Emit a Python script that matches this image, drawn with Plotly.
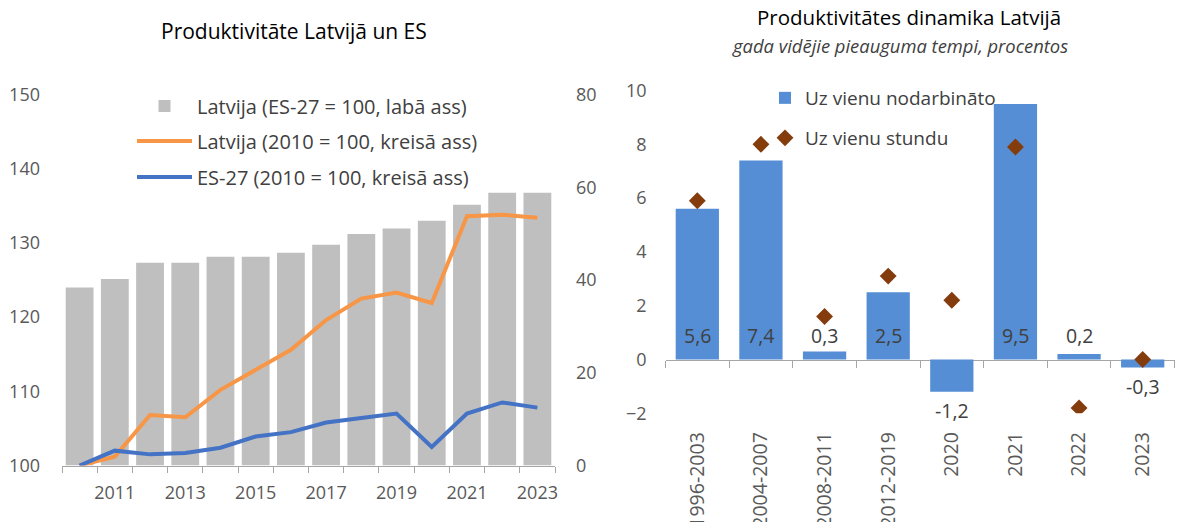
import plotly.graph_objects as go

# ---------------- data ----------------
years = [str(y) for y in range(2010, 2024)]
year_labels = [y if int(y) % 2 == 1 else "" for y in years]
lv_eu27 = [38.4, 40.2, 43.7, 43.7, 45.0, 45.0, 45.9, 47.6, 49.9, 51.1, 52.8, 56.2, 58.8, 58.8]
lv_2010 = [100.0, 101.2, 106.8, 106.5, 110.2, 112.9, 115.6, 119.6, 122.5, 123.3, 121.9, 133.6, 133.8, 133.4]
eu_2010 = [100.0, 102.0, 101.5, 101.7, 102.4, 103.9, 104.5, 105.8, 106.4, 107.0, 102.5, 107.0, 108.5, 107.8]

periods = ["1996-2003", "2004-2007", "2008-2011", "2012-2019", "2020", "2021", "2022", "2023"]
per_employed = [5.6, 7.4, 0.3, 2.5, -1.2, 9.5, 0.2, -0.3]
per_hour = [5.9, 8.0, 1.6, 3.1, 2.2, 7.9, -1.8, 0.0]

# ---------------- style ----------------
FONT = "Open Sans"
TICK_C = "#595959"
TEXT_C = "#404040"
AXIS_C = "#A6A6A6"
W, H = 1182, 522

xdom1 = [62 / W, 555 / W]
ydom1 = [1 - 465.5 / H, 1 - 94.5 / H]
xdom2 = [665.5 / W, 1174.5 / W]
ydom2 = [1 - 413.3 / H, 1 - 90.5 / H]
yr2 = [-2, 10]
zero_pos = ydom2[0] + (0 - yr2[0]) / (yr2[1] - yr2[0]) * (ydom2[1] - ydom2[0])

fig = go.Figure()

# left chart
fig.add_trace(go.Bar(x=years, y=lv_eu27, name="Latvija (ES-27 = 100, labā ass)",
                     marker=dict(color="#BFBFBF", line=dict(width=0)), width=0.79,
                     xaxis="x", yaxis="y", legend="legend"))
fig.add_trace(go.Scatter(x=years, y=lv_2010, mode="lines", name="Latvija (2010 = 100, kreisā ass)",
                         line=dict(color="#F79646", width=4), xaxis="x", yaxis="y2", legend="legend2"))
fig.add_trace(go.Scatter(x=years, y=eu_2010, mode="lines", name="ES-27 (2010 = 100, kreisā ass)",
                         line=dict(color="#4472C4", width=4), xaxis="x", yaxis="y2", legend="legend3"))

# right chart
fig.add_trace(go.Bar(x=periods, y=per_employed, name="Uz vienu nodarbināto",
                     marker=dict(color="#558ED5", line=dict(width=0)), width=0.68,
                     xaxis="x2", yaxis="y3", legend="legend4"))
fig.add_trace(go.Scatter(x=periods, y=per_hour, mode="markers", name="Uz vienu stundu",
                         marker=dict(symbol="diamond", size=13, color="#843C0C"),
                         xaxis="x3", yaxis="y3", legend="legend5"))

tickfont = dict(family=FONT, size=18, color=TICK_C)

fig.update_layout(
    width=W, height=H,
    margin=dict(l=0, r=0, t=0, b=0, autoexpand=False),
    paper_bgcolor="white", plot_bgcolor="rgba(0,0,0,0)",
    font=dict(family=FONT, color=TEXT_C),
    barmode="overlay",
    xaxis=dict(domain=xdom1, type="category", range=[-0.5, 13.5], anchor="y", automargin=False,
               tickmode="array", tickvals=years, ticktext=year_labels,
               tickson="boundaries", ticks="outside", ticklen=6, tickcolor=AXIS_C,
               showline=True, linecolor=AXIS_C, linewidth=1, showgrid=False,
               tickfont=tickfont, tickangle=0, ticklabelstandoff=11),
    yaxis=dict(domain=ydom1, range=[0, 80], dtick=20, side="right", anchor="x", automargin=False,
               showgrid=False, zeroline=False, tickfont=tickfont, ticklabelstandoff=20),
    yaxis2=dict(range=[100, 150], dtick=10, side="left", overlaying="y", anchor="x", automargin=False,
                showgrid=False, zeroline=False, tickfont=tickfont, ticklabelstandoff=21),
    xaxis2=dict(domain=xdom2, type="category", range=[-0.5, 7.5], anchor="y3", automargin=False,
                showline=False, ticks="", showgrid=False, tickangle=-90,
                tickfont=dict(family=FONT, size=19.5, color=TICK_C), ticklabelstandoff=14),
    xaxis3=dict(type="category", range=[-0.5, 7.5], overlaying="x2", anchor="free", automargin=False,
                position=zero_pos, showline=True, linecolor=AXIS_C, linewidth=1,
                ticks="outside", tickson="boundaries", ticklen=7, tickcolor=AXIS_C,
                showticklabels=False, showgrid=False, layer="below traces"),
    yaxis3=dict(domain=ydom2, range=yr2, dtick=2, anchor="x2", showgrid=False, automargin=False,
                zeroline=False, tickfont=tickfont, ticklabelstandoff=18),
    showlegend=True,
)

common = dict(xanchor="left", yanchor="middle", bgcolor="rgba(0,0,0,0)", borderwidth=0)
leg_font_l = dict(family=FONT, size=20, color=TEXT_C)
leg_font_r = dict(family=FONT, size=19, color=TEXT_C)
fig.update_layout(
    legend=dict(x=132 / W, y=1 - 106 / H, itemwidth=55, font=leg_font_l, **common),
    legend2=dict(x=132 / W, y=1 - 141 / H, itemwidth=55, font=leg_font_l, **common),
    legend3=dict(x=132 / W, y=1 - 177 / H, itemwidth=55, font=leg_font_l, **common),
    legend4=dict(x=765 / W, y=1 - 98 / H, itemwidth=30, font=leg_font_r, **common),
    legend5=dict(x=765 / W, y=1 - 138 / H, itemwidth=30, font=leg_font_r, **common),
)

# data labels (right chart) -- x given as category index
lab_font = dict(family=FONT, size=19.5, color=TEXT_C)
for i, v in enumerate(per_employed):
    txt = f"{v:.1f}".replace(".", ",")
    if v >= 0:
        fig.add_annotation(x=i, y=0, xref="x2", yref="y3", text=txt, showarrow=False,
                           yanchor="bottom", yshift=9, font=lab_font)
    else:
        fig.add_annotation(x=i, y=v, xref="x2", yref="y3", text=txt, showarrow=False,
                           yanchor="top", yshift=-3, font=lab_font)

# titles
fig.add_annotation(x=294 / W, y=1 - 31 / H, xref="paper", yref="paper", showarrow=False,
                   text="Produktivitāte Latvijā un ES", xanchor="center", yanchor="middle",
                   font=dict(family=FONT, size=21, color="#000000"))
fig.add_annotation(x=909 / W, y=1 - 17 / H, xref="paper", yref="paper", showarrow=False,
                   text="Produktivitātes dinamika Latvijā", xanchor="center", yanchor="middle",
                   font=dict(family=FONT, size=20.5, color="#000000"))
fig.add_annotation(x=900 / W, y=1 - 45 / H, xref="paper", yref="paper", showarrow=False,
                   text="<i>gada vidējie pieauguma tempi, procentos</i>", xanchor="center",
                   yanchor="middle", font=dict(family=FONT, size=18.4, color=TEXT_C))

fig.write_html("out.html", post_script="document.body.style.margin='0';",
               config={"displayModeBar": False})
